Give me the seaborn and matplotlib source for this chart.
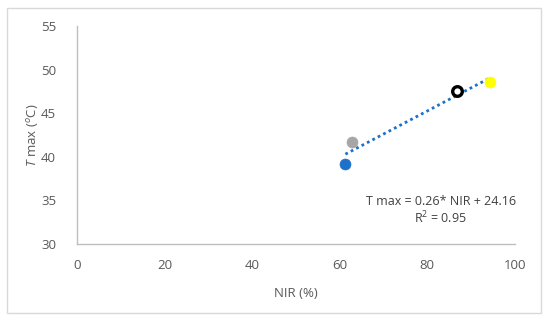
import numpy as np
import pandas as pd
import seaborn as sns
import matplotlib.pyplot as plt
from matplotlib.patches import Rectangle

# values
nir = [61.3, 62.7, 86.7, 94.4]
tmax = [39.2, 41.7, 47.6, 48.6]
face_colors = ['#1F70C8', '#A6A6A6', '#FFFFFF', '#FFFF00']
edge_colors = ['#1F70C8', '#A6A6A6', '#000000', '#FFFF00']
x_ticks = [0, 20, 40, 60, 80, 100]
y_ticks = [30, 35, 40, 45, 50, 55]
eq_text = 'T max = 0.26* NIR + 24.16'
r2_text = 'R$^2$ = 0.95'

df = pd.DataFrame({'NIR': nir, 'Tmax': tmax})

sns.set_style('white')
plt.rcParams['font.family'] = ['Open Sans', 'DejaVu Sans']
plt.rcParams['mathtext.fontset'] = 'custom'
plt.rcParams['mathtext.rm'] = 'Open Sans'
plt.rcParams['mathtext.it'] = 'Open Sans:italic'

fig = plt.figure(figsize=(5.5, 3.22), dpi=100)
ax = fig.add_axes([0.14, 0.242, 0.796, 0.677])

# chart-area border
fig.patches.append(Rectangle((7 / 550, 1 - 313 / 322), 534 / 550, 305 / 322,
                             transform=fig.transFigure, fill=False,
                             edgecolor='#D9D9D9', linewidth=1))

sns.regplot(data=df, x='NIR', y='Tmax', ax=ax, scatter=False, ci=None,
            color='#1F70C8',
            line_kws={'linestyle': (0, (1, 1.2)), 'linewidth': 2.0})

for i in range(len(nir)):
    ring = i == 2
    sns.scatterplot(x=[nir[i]], y=[tmax[i]], ax=ax, s=48 if ring else 62,
                    color=face_colors[i], edgecolor=edge_colors[i],
                    linewidth=2.4 if ring else 0.5, zorder=3)

ax.set_xlim(0, 100)
ax.set_ylim(30, 55)
ax.set_xticks(x_ticks)
ax.set_yticks(y_ticks)
ax.tick_params(axis='both', length=0, labelsize=9.5, colors='#595959')
ax.tick_params(axis='x', pad=11)
ax.tick_params(axis='y', pad=15)

for side in ['top', 'right']:
    ax.spines[side].set_visible(False)
for side in ['left', 'bottom']:
    ax.spines[side].set_color('#BFBFBF')
    ax.spines[side].set_linewidth(1)

ax.set_xlabel('NIR (%)', fontsize=9.5, color='#595959')
ax.set_ylabel(r'$\it{T}$ max ($^{o}$C)', fontsize=9.5, color='#595959')
ax.xaxis.set_label_coords(0.50, -0.197)
ax.yaxis.set_label_coords(-0.083, 0.50)

ax.text(83.1, 34.9, eq_text, ha='center', va='center', fontsize=9, color='#404040')
ax.text(83.1, 33.0, r2_text, ha='center', va='center', fontsize=9, color='#404040')

plt.savefig('out.png', dpi=100)
